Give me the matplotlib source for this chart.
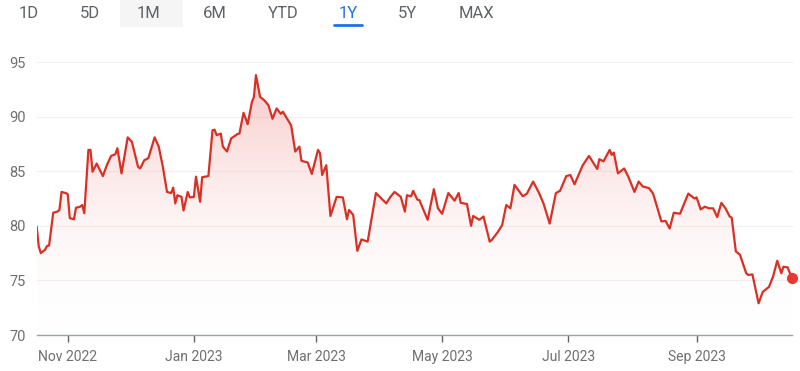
import numpy as np
import pandas as pd
import matplotlib
matplotlib.use("Agg")
import matplotlib.pyplot as plt
import matplotlib.dates as mdates
from matplotlib.colors import LinearSegmentedColormap

plt.rcParams['font.family'] = ['Roboto', 'DejaVu Sans']

# ---------------- data ----------------
dates = [
    "2022-10-17", "2022-10-18", "2022-10-19", "2022-10-21", "2022-10-22", "2022-10-23",
    "2022-10-25", "2022-10-27", "2022-10-28", "2022-10-29", "2022-10-31", "2022-11-01",
    "2022-11-02", "2022-11-04", "2022-11-05", "2022-11-07", "2022-11-08", "2022-11-09",
    "2022-11-11", "2022-11-12", "2022-11-13", "2022-11-15", "2022-11-18", "2022-11-20",
    "2022-11-22", "2022-11-24", "2022-11-25", "2022-11-27", "2022-11-30", "2022-12-02",
    "2022-12-05", "2022-12-06", "2022-12-08", "2022-12-10", "2022-12-13", "2022-12-15",
    "2022-12-17", "2022-12-19", "2022-12-21", "2022-12-22", "2022-12-23", "2022-12-24",
    "2022-12-26", "2022-12-27", "2022-12-29", "2022-12-30", "2023-01-01", "2023-01-02",
    "2023-01-04", "2023-01-05", "2023-01-08", "2023-01-10", "2023-01-11", "2023-01-12",
    "2023-01-14", "2023-01-15", "2023-01-17", "2023-01-19", "2023-01-22", "2023-01-23",
    "2023-01-25", "2023-01-27", "2023-01-29", "2023-01-30", "2023-01-31", "2023-02-02",
    "2023-02-04", "2023-02-06", "2023-02-08", "2023-02-10", "2023-02-12", "2023-02-13",
    "2023-02-17", "2023-02-19", "2023-02-21", "2023-02-22", "2023-02-25", "2023-02-27",
    "2023-03-02", "2023-03-03", "2023-03-04", "2023-03-06", "2023-03-08", "2023-03-11",
    "2023-03-14", "2023-03-16", "2023-03-17", "2023-03-19", "2023-03-21", "2023-03-23",
    "2023-03-26", "2023-03-30", "2023-04-04", "2023-04-06", "2023-04-08", "2023-04-11",
    "2023-04-13", "2023-04-14", "2023-04-16", "2023-04-17", "2023-04-19", "2023-04-20",
    "2023-04-24", "2023-04-27", "2023-04-29", "2023-05-01", "2023-05-04", "2023-05-07",
    "2023-05-09", "2023-05-10", "2023-05-13", "2023-05-15", "2023-05-16", "2023-05-19",
    "2023-05-21", "2023-05-24", "2023-05-25", "2023-05-28", "2023-05-30", "2023-06-01",
    "2023-06-03", "2023-06-05", "2023-06-09", "2023-06-11", "2023-06-14", "2023-06-17",
    "2023-06-19", "2023-06-22", "2023-06-25", "2023-06-27", "2023-06-30", "2023-07-02",
    "2023-07-04", "2023-07-08", "2023-07-11", "2023-07-15", "2023-07-16", "2023-07-18",
    "2023-07-21", "2023-07-22", "2023-07-23", "2023-07-25", "2023-07-28", "2023-07-30",
    "2023-08-02", "2023-08-04", "2023-08-06", "2023-08-09", "2023-08-11", "2023-08-15",
    "2023-08-17", "2023-08-19", "2023-08-21", "2023-08-24", "2023-08-28", "2023-08-31",
    "2023-09-01", "2023-09-03", "2023-09-05", "2023-09-07", "2023-09-09", "2023-09-11",
    "2023-09-13", "2023-09-15", "2023-09-17", "2023-09-18", "2023-09-20", "2023-09-22",
    "2023-09-25", "2023-09-26", "2023-09-28", "2023-10-01", "2023-10-03", "2023-10-06",
    "2023-10-08", "2023-10-10", "2023-10-12", "2023-10-13", "2023-10-15", "2023-10-17",
]
prices = [
    79.9, 78.1, 77.5, 77.8, 78.15, 78.2,
    81.2, 81.3, 81.45, 83.1, 83.0, 82.9,
    80.7, 80.6, 81.65, 81.75, 81.9, 81.15,
    86.95, 86.95, 84.95, 85.7, 84.55, 85.6,
    86.4, 86.55, 87.1, 84.8, 88.1, 87.7,
    85.4, 85.25, 86.0, 86.2, 88.1, 87.25,
    85.4, 83.1, 83.0, 83.5, 82.05, 82.8,
    82.65, 81.4, 83.1, 82.6, 82.65, 84.5,
    82.2, 84.45, 84.55, 88.75, 88.8, 88.3,
    88.45, 87.25, 86.8, 88.0, 88.4, 88.45,
    90.35, 89.3, 91.3, 91.8, 93.8, 91.8,
    91.5, 91.05, 89.8, 90.75, 90.25, 90.45,
    89.2, 86.8, 87.25, 85.95, 85.8, 84.75,
    86.95, 86.65, 84.65, 85.55, 80.9, 82.65,
    82.6, 80.6, 81.45, 81.0, 77.7, 78.75,
    78.55, 83.0, 82.05, 82.65, 83.1, 82.65,
    81.3, 82.8, 82.7, 83.2, 82.4, 82.35,
    80.55, 83.35, 81.6, 81.1, 83.0, 82.3,
    83.0, 82.1, 82.0, 80.0, 80.9, 80.55,
    80.85, 78.55, 78.7, 79.45, 80.05, 81.9,
    81.6, 83.75, 82.7, 82.95, 84.05, 82.95,
    82.05, 80.2, 83.0, 83.2, 84.55, 84.65,
    83.8, 85.55, 86.4, 85.2, 86.1, 85.9,
    86.95, 86.5, 86.7, 84.8, 85.25, 84.5,
    83.1, 84.05, 83.6, 83.45, 82.95, 80.4,
    80.45, 79.75, 81.2, 81.1, 82.95, 82.5,
    82.6, 81.5, 81.75, 81.6, 81.6, 80.8,
    82.1, 81.6, 80.85, 80.75, 77.65, 77.35,
    75.65, 75.5, 75.55, 72.9, 73.95, 74.4,
    75.35, 76.8, 75.65, 76.25, 76.2, 75.25,
]
y_ticks = [70, 75, 80, 85, 90, 95]
ranges = ["1D", "5D", "1M", "6M", "YTD", "1Y", "5Y", "MAX"]
active_range = "1Y"
hover_range = "1M"

# ---------------- styling ----------------
RED = "#d93025"
GRAY_TEXT = "#5f6368"
BLUE = "#1a73e8"

x = pd.to_datetime(dates)
y = np.array(prices)

W, H = 800, 371
fig = plt.figure(figsize=(W / 100, H / 100), dpi=100)
fig.patch.set_facecolor("white")

left_px, right_px = 36.7, 791.7
bot_px, top_px = 335, 62
ax = fig.add_axes([left_px / W, (H - bot_px) / H,
                   (right_px - left_px) / W, (bot_px - top_px) / H])
ax.set_facecolor("white")
ax.set_xlim(x[0], x[-1])
ax.set_ylim(70, 95)

# grid lines
for t in y_ticks[1:]:
    ax.axhline(t, color="#f1f1f1", lw=0.9, zorder=0, clip_on=False)

# gradient fill under the line
fill = ax.fill_between(x, y, 70, facecolor="none", edgecolor="none")
cmap = LinearSegmentedColormap.from_list(
    "g", [(1, 1, 1, 0), (0.90, 0.22, 0.21, 0.30)])
grad = np.linspace(0.03, 1, 256).reshape(-1, 1)
xn = mdates.date2num(x)
im = ax.imshow(grad, aspect="auto", cmap=cmap, origin="lower",
               extent=[xn[0], xn[-1], 70, 95], zorder=1, vmin=0, vmax=1)
path = fill.get_paths()[0]
im.set_clip_path(path, transform=ax.transData)

ax.plot(x, y, color=RED, lw=1.6, zorder=3, solid_joinstyle="round")
ax.plot(x[-1:], y[-1:], "o", color="#e53935", ms=7, zorder=4, clip_on=False)

# axes styling
for s in ["top", "right", "left"]:
    ax.spines[s].set_visible(False)
ax.spines["bottom"].set_color("#9aa0a6")
ax.spines["bottom"].set_linewidth(1.0)

ax.set_yticks(y_ticks)
ax.tick_params(axis="y", length=0, pad=8, labelsize=10.5, labelcolor="#6f6f6f")
ax.xaxis.set_major_locator(mdates.MonthLocator(bymonth=[1, 3, 5, 7, 9, 11]))
ax.xaxis.set_major_formatter(mdates.DateFormatter("%b %Y"))
ax.tick_params(axis="x", length=5, width=1, color="#5f6368", pad=6,
               labelsize=10, labelcolor="#6f6f6f", direction="out")

# range selector row
centers = [29, 90, 149, 215, 283, 348, 407, 476]
for lab, cx in zip(ranges, centers):
    if lab == hover_range:
        fig.patches.append(plt.Rectangle((120 / W, (H - 27) / H), 63 / W, 27 / H,
                                         transform=fig.transFigure,
                                         facecolor="#f5f5f5", edgecolor="none"))
    col = BLUE if lab == active_range else GRAY_TEXT
    fig.text(cx / W, (H - 13) / H, lab, ha="center", va="center",
             fontsize=12, color=col)
    if lab == active_range:
        fig.lines.append(plt.Line2D([334 / W, 362 / W], [(H - 24.7) / H] * 2,
                                    transform=fig.transFigure, color=BLUE,
                                    lw=2, solid_capstyle="round"))

fig.savefig("out.png", dpi=100, facecolor="white")
